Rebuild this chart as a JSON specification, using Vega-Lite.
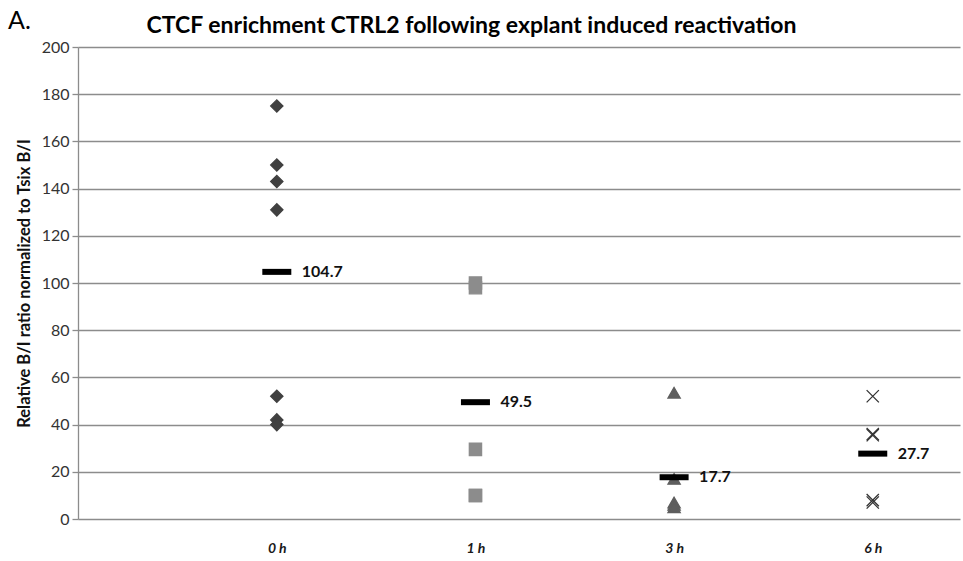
{
  "$schema": "https://vega.github.io/schema/vega-lite/v6.json",
  "width": 882,
  "height": 472,
  "autosize": {"type": "none"},
  "padding": {"left": 78, "top": 47, "right": 3, "bottom": 42},
  "background": "#ffffff",
  "title": {
    "text": "A.",
    "anchor": "start",
    "frame": "group",
    "dx": -70,
    "dy": 26,
    "offset": -14,
    "baseline": "alphabetic",
    "font": "Lato",
    "fontSize": 25,
    "fontWeight": "normal",
    "color": "#000000"
  },
  "config": {
    "view": {"stroke": null},
    "font": "Lato"
  },
  "data": {
    "values": [
      {"time": "0 h", "value": 175},
      {"time": "0 h", "value": 150},
      {"time": "0 h", "value": 143},
      {"time": "0 h", "value": 131},
      {"time": "0 h", "value": 52},
      {"time": "0 h", "value": 42},
      {"time": "0 h", "value": 40},
      {"time": "1 h", "value": 100},
      {"time": "1 h", "value": 98},
      {"time": "1 h", "value": 29.5},
      {"time": "1 h", "value": 10},
      {"time": "1 h", "value": 10},
      {"time": "3 h", "value": 53.5},
      {"time": "3 h", "value": 17},
      {"time": "3 h", "value": 7},
      {"time": "3 h", "value": 6},
      {"time": "3 h", "value": 5},
      {"time": "6 h", "value": 52},
      {"time": "6 h", "value": 36},
      {"time": "6 h", "value": 35.5},
      {"time": "6 h", "value": 8},
      {"time": "6 h", "value": 7}
    ]
  },
  "layer": [
    {
      "mark": {"type": "point", "filled": true, "opacity": 1, "strokeWidth": 1.3},
      "encoding": {
        "x": {
          "field": "time",
          "type": "nominal",
          "scale": {"type": "point", "domain": ["0 h", "1 h", "3 h", "6 h"], "padding": 0.72, "align": 0.695},
          "axis": {
            "orient": "bottom",
            "title": null,
            "domain": false,
            "ticks": false,
            "grid": false,
            "labelAngle": 0,
            "labelFont": "Lato",
            "labelFontSize": 14,
            "labelFontWeight": "bold",
            "labelFontStyle": "italic",
            "labelColor": "#1a1a1a",
            "labelPadding": 22
          }
        },
        "y": {
          "field": "value",
          "type": "quantitative",
          "scale": {"domain": [0, 200], "nice": false, "zero": true},
          "title": "Relative B/I ratio normalized to Tsix B/I",
          "axis": {
            "values": [0, 20, 40, 60, 80, 100, 120, 140, 160, 180, 200],
            "grid": true,
            "gridColor": "#8c8c8c",
            "gridWidth": 1.3,
            "domain": true,
            "domainColor": "#8c8c8c",
            "domainWidth": 1.3,
            "ticks": true,
            "tickColor": "#8c8c8c",
            "tickWidth": 1.3,
            "tickSize": 6,
            "labelFont": "Lato",
            "labelFontSize": 16,
            "labelColor": "#333333",
            "labelPadding": 3,
            "titleFont": "Lato",
            "titleFontSize": 16.5,
            "titleFontWeight": "bold",
            "titleColor": "#111111",
            "titlePadding": 9
          }
        },
        "shape": {
          "field": "time",
          "type": "nominal",
          "scale": {
            "domain": ["0 h", "1 h", "3 h", "6 h"],
            "range": ["diamond", "square", "triangle-up", "M-1,-1L1,1M-1,1L1,-1"]
          },
          "legend": null
        },
        "color": {
          "field": "time",
          "type": "nominal",
          "scale": {
            "domain": ["0 h", "1 h", "3 h", "6 h"],
            "range": ["#404040", "#8c8c8c", "#5e5e5e", "#333333"]
          },
          "legend": null
        },
        "stroke": {
          "field": "time",
          "type": "nominal",
          "scale": {
            "domain": ["0 h", "1 h", "3 h", "6 h"],
            "range": ["#404040", "#8c8c8c", "#5e5e5e", "#333333"]
          },
          "legend": null
        },
        "size": {"value": 150}
      }
    },
    {
      "mark": {"type": "tick", "color": "#000000", "size": 29, "thickness": 6, "opacity": 1},
      "encoding": {
        "x": {
          "field": "time",
          "type": "nominal",
          "axis": {
            "orient": "top",
            "labels": false,
            "ticks": false,
            "domain": false,
            "grid": false,
            "title": "CTCF enrichment CTRL2 following explant induced reactivation",
            "titleFont": "Lato",
            "titleFontSize": 23,
            "titleFontWeight": "bold",
            "titleColor": "#000000",
            "titleX": 393,
            "titleY": -15,
            "titleAlign": "center",
            "titleBaseline": "alphabetic"
          }
        },
        "y": {
          "aggregate": "mean",
          "field": "value",
          "type": "quantitative",
          "title": "Relative B/I ratio normalized to Tsix B/I"
        }
      }
    },
    {
      "mark": {
        "type": "text",
        "align": "left",
        "baseline": "middle",
        "dx": 25,
        "font": "Lato",
        "fontSize": 16,
        "fontWeight": "bold",
        "color": "#111111"
      },
      "encoding": {
        "x": {"field": "time", "type": "nominal", "axis": null},
        "y": {
          "aggregate": "mean",
          "field": "value",
          "type": "quantitative",
          "title": "Relative B/I ratio normalized to Tsix B/I"
        },
        "text": {"aggregate": "mean", "field": "value", "type": "quantitative", "format": ".1f"}
      }
    }
  ],
  "resolve": {"axis": {"x": "independent"}}
}
